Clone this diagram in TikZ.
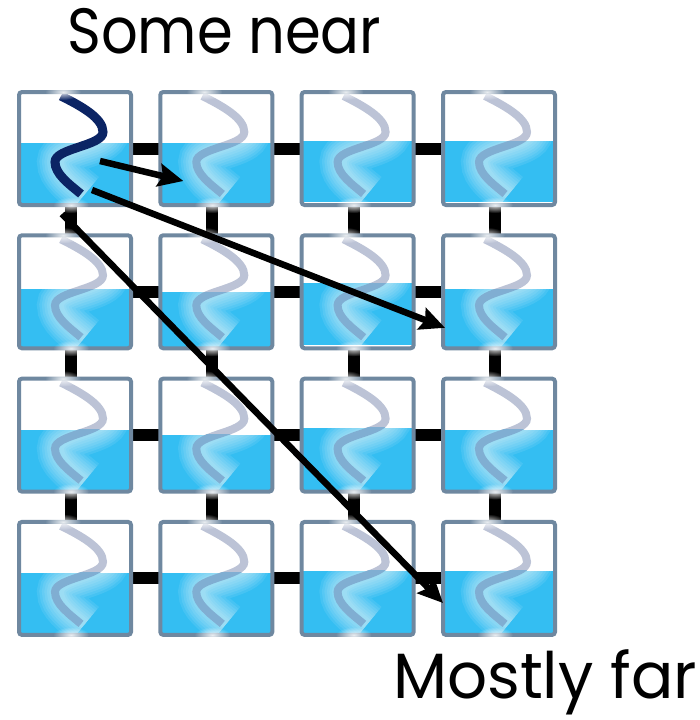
\documentclass[tikz,border=0pt]{standalone}
\usepackage{fontspec}
\setmainfont{Poppins}
\usetikzlibrary{arrows.meta,fadings,calc}
\definecolor{framec}{HTML}{6F88A0}
\definecolor{waterc}{HTML}{34BEF2}
\definecolor{waveair}{HTML}{BCC3D6}
\definecolor{wavewater}{HTML}{80AED2}
\definecolor{navyc}{HTML}{0B2464}
\tikzfading[name=glowfade, inner color=transparent!0, outer color=transparent!100]
\newcommand\wavepath{(42,4) .. controls (62,14) and (84,26) .. (84,40) .. controls (84,54) and (36,56) .. (36,70) .. controls (36,82) and (50,92) .. (62,102)}
\newcommand\glowpath{(46,4) .. controls (66,14) and (88,26) .. (88,40) .. controls (88,54) and (40,56) .. (40,70) .. controls (40,82) and (54,92) .. (66,102)}
\tikzset{
  cellshape/.style={rectangle, minimum width=112pt, minimum height=113pt, inner sep=0pt, outer sep=0pt},
  bar/.style={line width=12pt, black},
  arr/.style={line width=6.5pt, black, -{Stealth[length=25pt,width=23pt,inset=4pt]}},
  txt/.style={font=\fontsize{64}{64}\selectfont, anchor=base west, inner sep=0pt},
  border/.style={draw=framec, line width=4pt, rounded corners=3pt},
}
\begin{document}
\begin{tikzpicture}[x=1pt,y=-1pt]
\useasboundingbox (0,0) rectangle (699,720);
\foreach \r/\yc in {1/148.5,2/291.8,3/435.1,4/578.4}{
  \foreach \c/\xc in {1/75,2/216.3,3/357.6,4/499}{
    \node[cellshape] (b\r\c) at (\xc,\yc) {};
  }
}
% connectors
\foreach \r in {1,...,4}{
  \foreach \c/\n in {1/2,2/3,3/4}{
    \draw[bar] (b\r\c.east) -- (b\r\n.west);
  }
}
\foreach \r/\n in {1/2,2/3,3/4}{
  \foreach \c in {1,...,4}{
    \draw[bar] ([xshift=-4pt]b\r\c.south) -- ([xshift=-4pt]b\n\c.north);
  }
}
% boxes
\foreach \r/\c/\w/\g in {1/1/51/0,1/2/51/0,1/3/49/3,1/4/49/3,
                         2/1/54/0,2/2/57/0,2/3/48/3,2/4/54/0,
                         3/1/51/0,3/2/56/0,3/3/49/0,3/4/51/0,
                         4/1/51/0,4/2/51/0,4/3/49/0,4/4/49/0}{
  \begin{scope}[shift={(b\r\c.north west)}]
    \fill[white] (0,0) rectangle (112,113);
    \fill[waterc] (0,\w) rectangle (112,113-\g);
    \begin{scope}
      \clip (0,\w) rectangle (112,113-\g);
      \foreach \lw in {44,39,34,29,24,19,14,10}{
        \draw[white, opacity=.09, line width=\lw pt] \glowpath;
      }
    \end{scope}
    \ifnum\r\c=11
      \draw[navyc, line width=9pt] \wavepath;
    \else
      \begin{scope}
        \clip (-5,-5) rectangle (120,\w);
        \draw[waveair, line width=8pt] \wavepath;
      \end{scope}
      \begin{scope}
        \clip (-5,\w) rectangle (120,120);
        \draw[wavewater, line width=8pt] \wavepath;
      \end{scope}
    \fi
    \draw[border] (0,0) rectangle (112,113);
    \fill[white, opacity=.85, path fading=glowfade] (44,0) ellipse (18pt and 8pt);
    \fill[white, opacity=.85, path fading=glowfade] (52,113) ellipse (18pt and 8pt);
  \end{scope}
}
% arrows
\draw[arr] ($(b11.center)+(25,12.5)$) -- ($(b12.center)+(-33,32.5)$);
\draw[arr] ($(b11.center)+(17,41.5)$) -- ($(b24.center)+(-54,36)$);
\draw[arr] ($(b11.center)+(-13,65.5)$) -- ($(b44.center)+(-56,24.6)$);
% labels
\node[txt] (t1) at (67,53) {\scalebox{0.9}[1]{Some near}};
\node[txt] (t2) at (393,698) {\scalebox{0.98}[1]{Mostly far}};
\end{tikzpicture}
\end{document}
